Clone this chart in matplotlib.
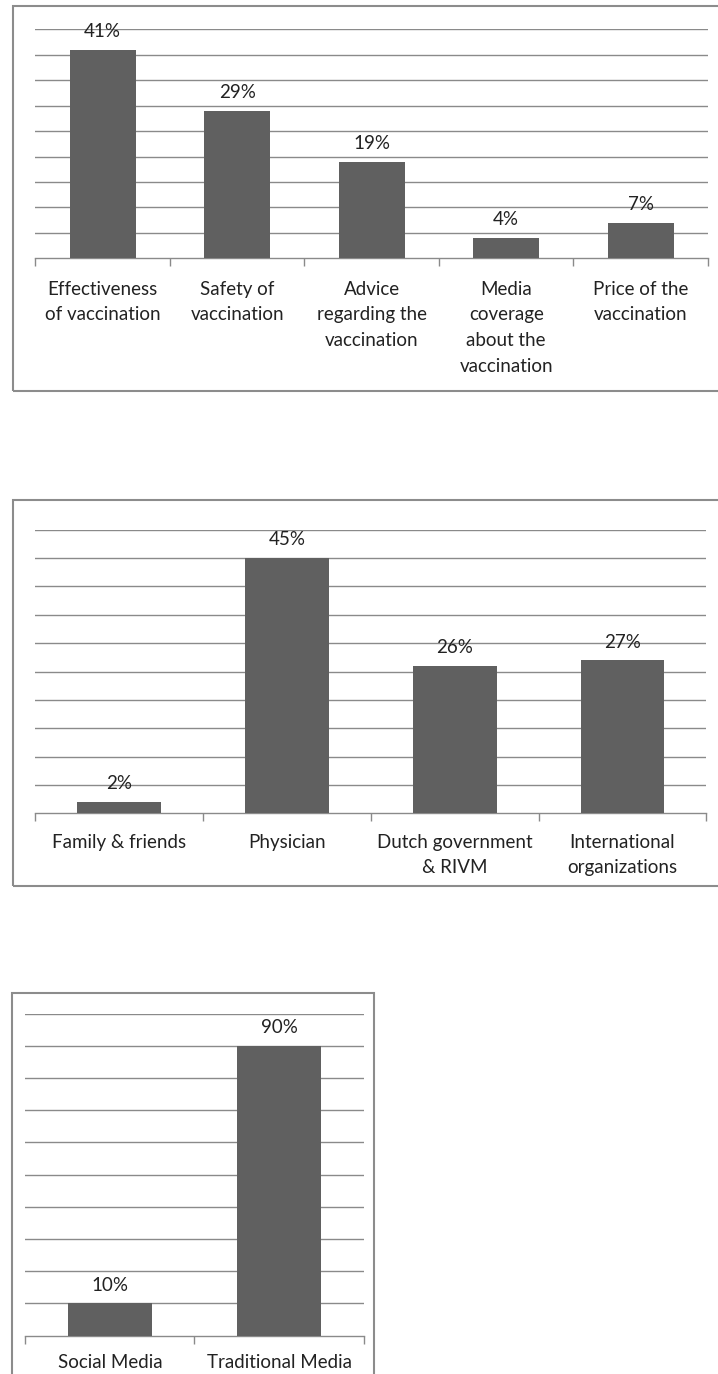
import matplotlib
matplotlib.use("Agg")
import matplotlib.pyplot as plt
from matplotlib.patches import Rectangle

plt.rcParams['font.family'] = ['Lato', 'DejaVu Sans']

# Data
cats1 = ["Effectiveness\nof vaccination", "Safety of\nvaccination",
         "Advice\nregarding the\nvaccination", "Media\ncoverage\nabout the\nvaccination",
         "Price of the\nvaccination"]
vals1 = [41, 29, 19, 4, 7]

cats2 = ["Family & friends", "Physician", "Dutch government\n& RIVM",
         "International\norganizations"]
vals2 = [2, 45, 26, 27]

cats3 = ["Social Media", "Traditional Media"]
vals3 = [10, 90]

W, H = 718, 1374
fig = plt.figure(figsize=(W / 100, H / 100), dpi=100)

BAR = "#606060"
GRID = "#8a8a8a"
BORDER = "#8c8c8c"
TXT = "#222222"
FS = 13.5


def px_rect(x0, y0, x1, y1):
    return [x0 / W, 1 - y1 / H, (x1 - x0) / W, (y1 - y0) / H]


def panel(rect, cats, vals, ymax, step, width, pad):
    ax = fig.add_axes(rect)
    x = list(range(len(cats)))
    ax.bar(x, vals, width=width, color=BAR, zorder=3)
    ax.set_xlim(-0.5, len(cats) - 0.5)
    ax.set_ylim(0, ymax)
    ax.set_yticks(list(range(step, ymax + 1, step)))
    ax.yaxis.grid(True, color=GRID, linewidth=1.0, zorder=0)
    ax.tick_params(axis='y', length=0, labelleft=False)
    for s in ['left', 'right', 'top']:
        ax.spines[s].set_visible(False)
    ax.spines['bottom'].set_color(GRID)
    ax.spines['bottom'].set_linewidth(1.0)
    ax.set_xticks(x)
    ax.set_xticklabels(cats, fontsize=FS, color=TXT, linespacing=1.62)
    ax.tick_params(axis='x', which='major', length=0, pad=pad)
    ax.set_xticks([i - 0.5 for i in range(len(cats) + 1)], minor=True)
    ax.tick_params(axis='x', which='minor', length=6, color=GRID, width=1.0)
    for xi, v in zip(x, vals):
        ax.annotate(f"{v}%", (xi, v), xytext=(0, 7), textcoords='offset points',
                    ha='center', va='bottom', fontsize=FS, color=TXT)
    return ax


# Borders
for (x0, y0, x1, y1) in [(12.8, 6, 730, 391), (12.8, 500, 730, 886), (12.4, 993.4, 374, 1390)]:
    r = px_rect(x0, y0, x1, y1)
    fig.patches.append(Rectangle((r[0], r[1]), r[2], r[3], transform=fig.transFigure,
                                 fill=False, edgecolor=BORDER, linewidth=1.5))

panel(px_rect(35.3, 29.3, 708, 258.3), cats1, vals1, 45, 5, 0.49, 16)
panel(px_rect(35.3, 529.7, 706.4, 813.5), cats2, vals2, 50, 5, 0.5, 14.5)
panel(px_rect(25.2, 1013.6, 363.7, 1335.6), cats3, vals3, 100, 10, 0.5, 13.5)

fig.savefig("out.png", dpi=100)
